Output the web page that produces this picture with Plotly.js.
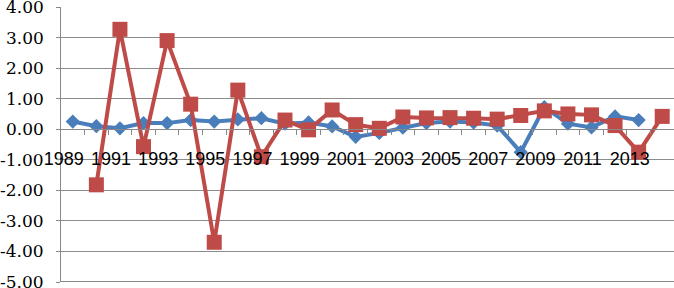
<!DOCTYPE html>
<html>
<head>
<meta charset="utf-8">
<script src="https://cdn.plot.ly/plotly-3.0.1.min.js"></script>
<style>
html,body{margin:0;padding:0;background:#fff;}
#chart{width:674px;height:288px;}
</style>
</head>
<body>
<div id="chart"></div>
<script>
const years = [1989,1990,1991,1992,1993,1994,1995,1996,1997,1998,1999,2000,2001,2002,2003,2004,2005,2006,2007,2008,2009,2010,2011,2012,2013,2014];
const seriesBlue = [0.25,0.10,0.03,0.20,0.20,0.30,0.25,0.32,0.36,0.18,0.22,0.09,-0.25,-0.12,0.05,0.20,0.25,0.22,0.12,-0.75,0.72,0.18,0.06,0.42,0.30,null];
const seriesRed = [null,-1.82,3.27,-0.57,2.90,0.82,-3.70,1.28,-0.90,0.30,-0.02,0.63,0.15,0.03,0.40,0.37,0.38,0.36,0.33,0.45,0.60,0.50,0.47,0.12,-0.75,0.42];
const tickYears = [1989,1991,1993,1995,1997,1999,2001,2003,2005,2007,2009,2011,2013];
const yTicks = [4,3,2,1,0,-1,-2,-3,-4,-5];

const labelShift = 0.38;
const boundaries = years.slice(0, -1).map(y => y + 0.5);

const traces = [
  {
    x: years, y: seriesBlue, type: 'scatter', mode: 'lines+markers',
    line: {color: '#4A7EBB', width: 4},
    marker: {symbol: 'diamond', size: 11, color: '#4A7EBB'},
    connectgaps: false, hoverinfo: 'skip'
  },
  {
    x: years, y: seriesRed, type: 'scatter', mode: 'lines+markers',
    line: {color: '#BE4B48', width: 4},
    marker: {symbol: 'square', size: 15, color: '#BE4B48'},
    connectgaps: false, hoverinfo: 'skip'
  }
];

const yLabelAnnotations = yTicks.map(v => ({
  xref: 'paper', yref: 'y', x: 0, y: v,
  xanchor: 'right', yanchor: 'middle', xshift: -15,
  text: v.toFixed(2), showarrow: false,
  font: {family: 'DejaVu Serif', size: 17, color: '#000'}
}));

const layout = {
  width: 674, height: 288,
  margin: {l: 61, r: 0, t: 7, b: 6, pad: 0},
  paper_bgcolor: '#ffffff', plot_bgcolor: '#ffffff',
  showlegend: false,
  xaxis: {
    type: 'linear',
    range: [years[0] - 0.5, years[years.length - 1] + 0.5],
    anchor: 'free', position: 5/9,
    tickmode: 'array',
    tickvals: tickYears.map(y => y - labelShift),
    ticktext: tickYears.map(String),
    ticks: '', ticklabelstandoff: 13,
    tickfont: {family: 'Liberation Sans', size: 18, color: '#000'},
    showgrid: false, zeroline: false,
    showline: true, linecolor: '#888888', linewidth: 1,
    minor: {tickmode: 'array', tickvals: boundaries, ticks: 'outside', ticklen: 5, tickcolor: '#888888', tickwidth: 1, showgrid: false}
  },
  yaxis: {
    range: [-5, 4],
    tickmode: 'array',
    tickvals: yTicks,
    ticktext: yTicks.map(() => ''),
    ticks: 'outside', ticklen: 4, tickcolor: '#888888',
    showgrid: true, gridcolor: '#8c8c8c', gridwidth: 1,
    zeroline: false,
    showline: true, linecolor: '#888888', linewidth: 1
  },
  annotations: yLabelAnnotations,
  shapes: [
    {type: 'line', xref: 'paper', yref: 'y', x0: 0, x1: 1, y0: -5, y1: -5, line: {color: '#888888', width: 2}}
  ]
};

Plotly.newPlot('chart', traces, layout, {displayModeBar: false, staticPlot: true});
</script>
</body>
</html>
